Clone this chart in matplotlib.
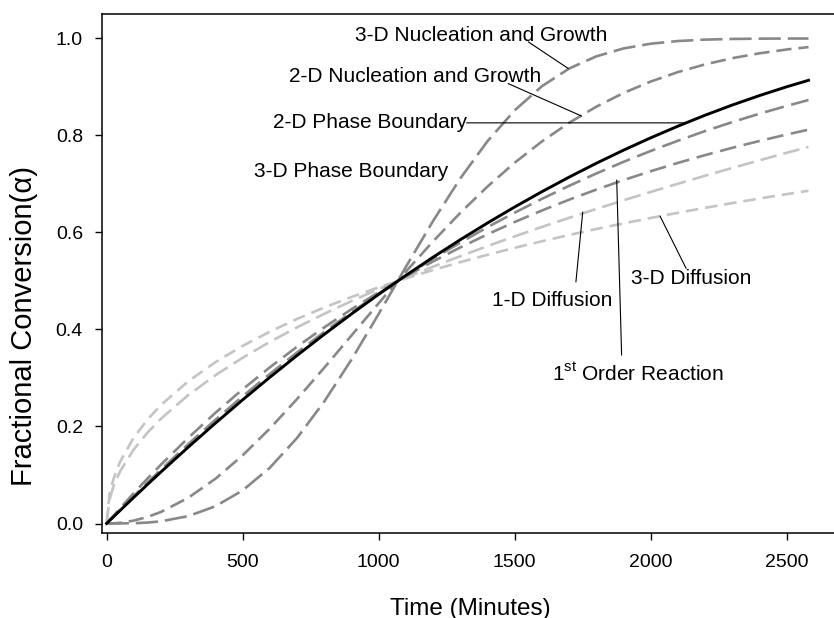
import matplotlib
matplotlib.use("Agg")
import matplotlib.pyplot as plt

plt.rcParams['font.family'] = ['Liberation Sans', 'DejaVu Sans']
plt.rcParams['lines.scale_dashes'] = False

# === Dati ===
time_min = [0, 10, 25, 50, 100, 150, 200, 300, 400, 500, 600, 700, 800, 900, 1000,
            1100, 1200, 1300, 1400, 1500, 1600, 1700, 1800, 1900, 2000, 2100, 2200,
            2300, 2400, 2500, 2580]

nucl_3d = [0.0, 0.0, 0.0, 0.0001, 0.0006, 0.0019, 0.0045, 0.0152, 0.0356, 0.0683, 0.115,
           0.1764, 0.2515, 0.338, 0.4321, 0.5291, 0.6238, 0.7115, 0.7883, 0.8519, 0.9015,
           0.938, 0.9631, 0.9794, 0.9892, 0.9947, 0.9976, 0.999, 0.9996, 0.9999, 0.9999]

nucl_2d = [0.0, 0.0001, 0.0004, 0.0015, 0.006, 0.0135, 0.0239, 0.053, 0.0923, 0.1405,
           0.1958, 0.2567, 0.3212, 0.3876, 0.4542, 0.5193, 0.5818, 0.6405, 0.6947, 0.7439,
           0.7877, 0.8262, 0.8593, 0.8876, 0.9112, 0.9307, 0.9466, 0.9594, 0.9694, 0.9773,
           0.9822]

phase_2d = [0.0, 0.0055, 0.0136, 0.0272, 0.054, 0.0804, 0.1065, 0.1575, 0.207, 0.255,
            0.3015, 0.3465, 0.39, 0.432, 0.4725, 0.5115, 0.5491, 0.5851, 0.6196, 0.6526,
            0.6841, 0.7141, 0.7427, 0.7697, 0.7952, 0.8192, 0.8418, 0.8628, 0.8823, 0.9004,
            0.9137]

phase_3d = [0.0, 0.0058, 0.0144, 0.0286, 0.0567, 0.0843, 0.1113, 0.1637, 0.214, 0.2622,
            0.3084, 0.3527, 0.395, 0.4355, 0.4741, 0.5109, 0.5459, 0.5792, 0.6109, 0.6409,
            0.6693, 0.6962, 0.7216, 0.7456, 0.7681, 0.7892, 0.8091, 0.8276, 0.8449, 0.861,
            0.8731]

first_order = [0.0, 0.0065, 0.0161, 0.0319, 0.0627, 0.0926, 0.1215, 0.1766, 0.2283, 0.2767,
               0.322, 0.3646, 0.4044, 0.4418, 0.4768, 0.5096, 0.5403, 0.5692, 0.5962, 0.6216,
               0.6453, 0.6676, 0.6884, 0.708, 0.7263, 0.7434, 0.7595, 0.7746, 0.7887, 0.802,
               0.812]

diff_1d = [0.0, 0.0483, 0.0764, 0.1081, 0.1529, 0.1872, 0.2162, 0.2648, 0.3057, 0.3418,
           0.3744, 0.4044, 0.4323, 0.4586, 0.4834, 0.507, 0.5295, 0.5511, 0.5719, 0.592,
           0.6114, 0.6302, 0.6485, 0.6663, 0.6836, 0.7005, 0.717, 0.7331, 0.7488, 0.7643,
           0.7764]

diff_3d = [0.0, 0.0586, 0.0916, 0.1279, 0.1775, 0.2143, 0.2444, 0.2932, 0.3327, 0.3662,
           0.3955, 0.4217, 0.4454, 0.467, 0.4869, 0.5054, 0.5227, 0.5388, 0.554, 0.5684,
           0.5819, 0.5948, 0.6071, 0.6188, 0.6299, 0.6406, 0.6508, 0.6606, 0.67, 0.6791,
           0.686]

# === Stili ===
MID = '#888888'
LIGHT = '#c4c4c4'

fig = plt.figure(figsize=(8.34, 6.18), dpi=100)
ax = fig.add_axes([0.122, 0.138, 0.898, 0.839])

ax.plot(time_min, diff_3d, color=LIGHT, lw=1.9, dashes=(9, 5))
ax.plot(time_min, diff_1d, color=LIGHT, lw=1.9, dashes=(12, 5))
ax.plot(time_min, first_order, color=MID, lw=1.9, dashes=(12, 5.5))
ax.plot(time_min, phase_3d, color=MID, lw=1.9, dashes=(14, 5.5))
ax.plot(time_min, nucl_2d, color=MID, lw=1.9, dashes=(11, 5))
ax.plot(time_min, nucl_3d, color=MID, lw=1.9, dashes=(16, 5))
ax.plot(time_min, phase_2d, color='black', lw=2.1)

ax.set_xlim(-18, 2735)
ax.set_ylim(-0.019, 1.05)
ax.set_xticks([0, 500, 1000, 1500, 2000, 2500])
ax.set_yticks([0.0, 0.2, 0.4, 0.6, 0.8, 1.0])
ax.set_yticklabels(['0.0', '0.2', '0.4', '0.6', '0.8', '1.0'])
ax.tick_params(direction='out', length=5, width=1, labelsize=14)
ax.tick_params(axis='x', pad=10.5)
ax.tick_params(axis='y', pad=8.5)
for s in ax.spines.values():
    s.set_linewidth(1.1)

ax.set_xlabel('Time (Minutes)', fontsize=17.5)
ax.set_ylabel('Fractional Conversion(α)', fontsize=21)
ax.xaxis.set_label_coords(0.492, -0.125)
ax.yaxis.set_label_coords(-0.085, 0.3985)

# === Etichette con linee guida ===
FS = 15
lab = dict(fontsize=FS, ha='center', va='center')
leader = dict(arrowstyle='-', color='black', lw=0.8, shrinkA=0, shrinkB=0)

ax.text(1376, 1.007, '3-D Nucleation and Growth', **lab)
ax.annotate('', xy=(1697, 0.938), xytext=(1550, 0.993), arrowprops=leader)

ax.text(1133, 0.922, '2-D Nucleation and Growth', **lab)
ax.annotate('', xy=(1746, 0.840), xytext=(1476, 0.907), arrowprops=leader)

ax.text(970, 0.826, '2-D Phase Boundary', **lab)
ax.annotate('', xy=(2126, 0.826), xytext=(1323, 0.826), arrowprops=leader)

ax.text(897, 0.725, '3-D Phase Boundary', **lab)

ax.text(1638, 0.460, '1-D Diffusion', **lab)
ax.annotate('', xy=(1750, 0.642), xytext=(1725, 0.498), arrowprops=leader)

ax.text(2147, 0.506, '3-D Diffusion', **lab)
ax.annotate('', xy=(2034, 0.634), xytext=(2130, 0.526), arrowprops=leader)

ax.text(1953, 0.309, r'1$^{\mathregular{st}}$ Order Reaction', **lab)
ax.annotate('', xy=(1875, 0.708), xytext=(1893, 0.347), arrowprops=leader)

fig.savefig('out.png', dpi=100)
